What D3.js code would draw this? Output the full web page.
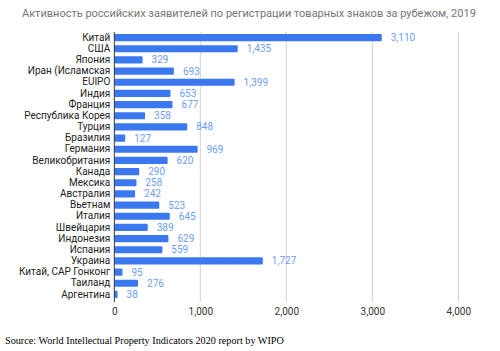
<!DOCTYPE html>
<html>
<head>
<meta charset="utf-8">
<script src="https://cdn.jsdelivr.net/npm/d3@7"></script>
<style>
  body { margin: 0; background: #fff; }
  svg { display: block; font-family: Roboto, Arial, sans-serif; }
</style>
</head>
<body>
<svg id="chart" width="500" height="351"></svg>
<script>
const countries = ["Китай", "США", "Япония", "Иран (Исламская", "EUIPO", "Индия", "Франция",
  "Республика Корея", "Турция", "Бразилия", "Германия", "Великобритания", "Канада", "Мексика",
  "Австралия", "Вьетнам", "Италия", "Швейцария", "Индонезия", "Испания", "Украина",
  "Китай, САР Гонконг", "Таиланд", "Аргентина"];
const applications = [3110, 1435, 329, 693, 1399, 653, 677, 358, 848, 127, 969, 620, 290, 258,
  242, 523, 645, 389, 629, 559, 1727, 95, 276, 38];
const xTicks = [0, 1000, 2000, 3000, 4000];

const width = 500, height = 351;
const margin = {top: 32, left: 114.3, right: 41.7, bottom: 51};
const gridBottom = height - margin.bottom + 2;

const svg = d3.select("#chart");

const x = d3.scaleLinear().domain([0, 4000]).range([margin.left, width - margin.right]);
const y = d3.scaleBand().domain(countries).range([margin.top, height - margin.bottom]).paddingInner(0.36).paddingOuter(0.18);

// title
svg.append("text")
  .attr("x", 22).attr("y", 17)
  .attr("fill", "#757575").attr("font-size", 11)
  .text("Активность российских заявителей по регистрации товарных знаков за рубежом, 2019");

// grid
svg.append("g").selectAll("line").data(xTicks.slice(1)).join("line")
  .attr("x1", d => x(d)).attr("x2", d => x(d))
  .attr("y1", margin.top).attr("y2", gridBottom)
  .attr("stroke", "#d0d0d0").attr("stroke-width", 1);

// bars
svg.append("g").selectAll("rect").data(applications).join("rect")
  .attr("x", x(0))
  .attr("y", (d, i) => y(countries[i]))
  .attr("width", d => x(d) - x(0))
  .attr("height", y.bandwidth())
  .attr("rx", 1)
  .attr("fill", "#3b78f0");

// zero line
svg.append("line")
  .attr("x1", x(0)).attr("x2", x(0))
  .attr("y1", margin.top).attr("y2", gridBottom)
  .attr("stroke", "#333").attr("stroke-width", 1);

// value labels
svg.append("g").selectAll("text").data(applications).join("text")
  .attr("x", d => x(d) + 9)
  .attr("y", (d, i) => y(countries[i]) + y.bandwidth() / 2)
  .attr("dy", "0.35em")
  .attr("fill", "#6d9ef5").attr("font-size", 10)
  .text(d => d3.format(",")(d));

// category axis
const yAxis = svg.append("g")
  .attr("transform", `translate(${x(0) - 4},0)`)
  .call(d3.axisLeft(y).tickSize(0).tickPadding(0));
yAxis.select(".domain").remove();
yAxis.selectAll("text").attr("fill", "#222").attr("font-size", 10).attr("font-family", "Roboto, Arial, sans-serif");

// x axis labels
const xAxis = svg.append("g")
  .attr("transform", `translate(0,${height - margin.bottom + 2})`)
  .call(d3.axisBottom(x).tickValues(xTicks).tickSize(0).tickPadding(6).tickFormat(d3.format(",")));
xAxis.select(".domain").remove();
xAxis.selectAll("text").attr("fill", "#333").attr("font-size", 10).attr("font-family", "Roboto, Arial, sans-serif");

// source
svg.append("text")
  .attr("x", 5).attr("y", 344)
  .attr("font-family", "'Liberation Serif', 'Times New Roman', serif")
  .attr("font-size", 10.2).attr("fill", "#000")
  .text("Source: World Intellectual Property Indicators 2020 report by WIPO");
</script>
</body>
</html>
